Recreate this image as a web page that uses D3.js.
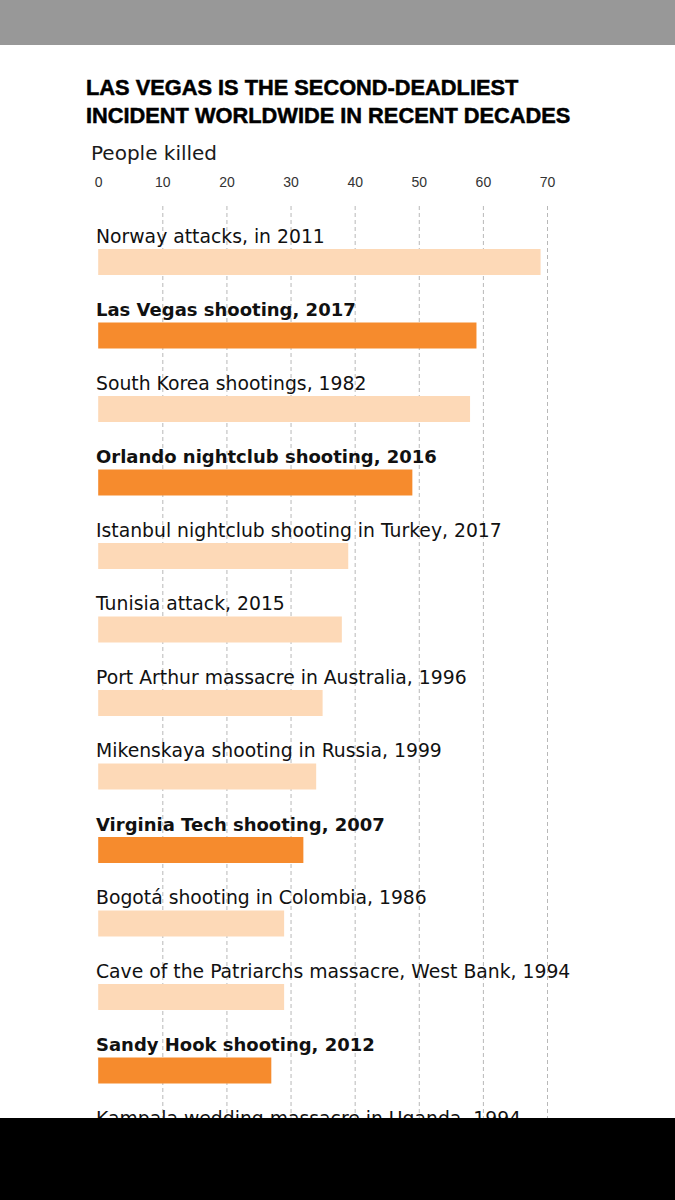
<!DOCTYPE html>
<html>
<head>
<meta charset="utf-8">
<script src="https://cdn.jsdelivr.net/npm/d3@7"></script>
<style>
    body { margin: 0; background: #fff; }
    svg { display: block; }
</style>
</head>
<body>
<svg id="drawing_region"></svg>
<script>
// chart values
const incidents = [
    "Norway attacks, in 2011",
    "Las Vegas shooting, 2017",
    "South Korea shootings, 1982",
    "Orlando nightclub shooting, 2016",
    "Istanbul nightclub shooting in Turkey, 2017",
    "Tunisia attack, 2015",
    "Port Arthur massacre in Australia, 1996",
    "Mikenskaya shooting in Russia, 1999",
    "Virginia Tech shooting, 2007",
    "Bogotá shooting in Colombia, 1986",
    "Cave of the Patriarchs massacre, West Bank, 1994",
    "Sandy Hook shooting, 2012",
    "Kampala wedding massacre in Uganda, 1994"
];
const killed = [69, 59, 58, 49, 39, 38, 35, 34, 32, 29, 29, 27, 26];
const usIncidents = [
    "Las Vegas shooting, 2017",
    "Orlando nightclub shooting, 2016",
    "Virginia Tech shooting, 2007",
    "Sandy Hook shooting, 2012"
];
const xTicks = [0, 10, 20, 30, 40, 50, 60, 70];
const titleLines = [
    "LAS VEGAS IS THE SECOND-DEADLIEST",
    "INCIDENT WORLDWIDE IN RECENT DECADES"
];
const axisTitle = "People killed";


class BarChart {

    constructor(config, data) {
        this.config = config;
        this.data = data;
        this.init();
    }

    init() {
        let self = this;
        self.svg = d3.select(self.config.parent)
            .attr('width', self.config.width)
            .attr('height', self.config.height);

        self.xscale = d3.scaleLinear()
            .domain([0, d3.max(xTicks)])
            .range([98.2, 547]);

        // one row every 73.5px, indexed by position in the list
        self.yscale = d3.scaleLinear()
            .domain([0, 1])
            .range([249, 322.5]);
    }

    render() {
        let self = this;
        const font = "'DejaVu Sans', sans-serif";

        // grey band at the top
        self.svg.append('rect')
            .attr('x', 0).attr('y', 0)
            .attr('width', self.config.width).attr('height', 45)
            .attr('fill', '#989898');

        // title
        self.svg.append('g')
            .selectAll('text')
            .data(titleLines)
            .join('text')
            .attr('x', 86)
            .attr('y', (d, i) => 95 + i * 27.5)
            .attr('font-family', "'Liberation Sans', Arial, sans-serif")
            .attr('font-weight', 'bold')
            .attr('font-size', '21.8px')
            .attr('fill', '#000')
            .attr('stroke', '#000')
            .attr('stroke-width', 0.5)
            .text(d => d);

        self.svg.append('text')
            .attr('x', 91)
            .attr('y', 159.5)
            .attr('font-family', font)
            .attr('font-size', '20px')
            .attr('fill', '#1a1a1a')
            .text(axisTitle);

        // tick labels
        const xaxis = d3.axisTop(self.xscale)
            .tickValues(xTicks)
            .tickSize(0)
            .tickPadding(0);

        const xaxis_group = self.svg.append('g')
            .attr('transform', 'translate(0, 187)')
            .call(xaxis);
        xaxis_group.select('.domain').remove();
        xaxis_group.selectAll('text')
            .attr('font-family', "'Liberation Sans', Arial, sans-serif")
            .attr('font-size', '14px')
            .attr('fill', '#333');

        // dashed gridlines
        const grid = d3.axisBottom(self.xscale)
            .tickValues(xTicks.slice(1))
            .tickSize(1118 - 206)
            .tickFormat('');

        const grid_group = self.svg.append('g')
            .attr('transform', 'translate(0, 206)')
            .call(grid);
        grid_group.select('.domain').remove();
        grid_group.selectAll('line')
            .attr('stroke', '#b8b8b8')
            .attr('stroke-width', 1)
            .attr('stroke-dasharray', '4,3');

        // bars
        self.svg.append('g')
            .selectAll('rect')
            .data(self.data)
            .join('rect')
            .attr('x', self.xscale(0))
            .attr('y', (d, i) => self.yscale(i))
            .attr('width', d => self.xscale(d.value) - self.xscale(0))
            .attr('height', 26)
            .attr('fill', d => d.us ? '#f68b2d' : '#fdd9b7');

        // row labels
        self.svg.append('g')
            .selectAll('text')
            .data(self.data)
            .join('text')
            .attr('x', 96)
            .attr('y', (d, i) => self.yscale(i) - 6.5)
            .attr('font-family', font)
            .attr('font-weight', d => d.us ? 'bold' : 'normal')
            .attr('font-size', d => d.us ? '18px' : '18.8px')
            .attr('fill', '#111')
            .text(d => d.name);

        // black band at the bottom
        self.svg.append('rect')
            .attr('x', 0).attr('y', 1118)
            .attr('width', self.config.width).attr('height', self.config.height - 1118)
            .attr('fill', '#000');
    }
}

const data = incidents.map((name, i) => ({
    name: name,
    value: killed[i],
    us: usIncidents.includes(name)
}));

const chart = new BarChart({ parent: '#drawing_region', width: 675, height: 1200 }, data);
chart.render();
</script>
</body>
</html>
